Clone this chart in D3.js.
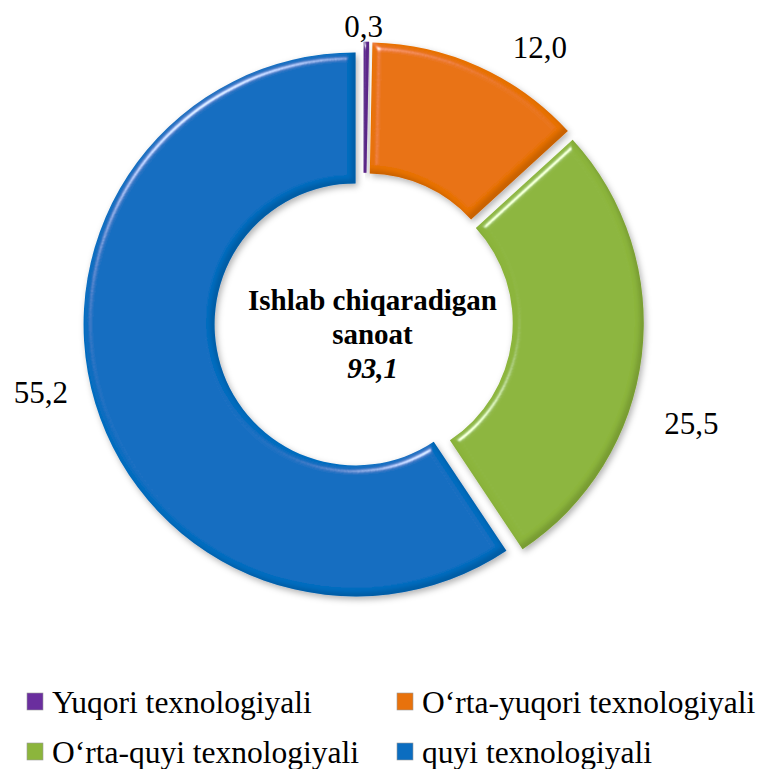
<!DOCTYPE html>
<html>
<head>
<meta charset="utf-8">
<script src="https://cdn.jsdelivr.net/npm/d3@7"></script>
<style>
  body { margin: 0; background: #fff; }
  text { font-family: "Liberation Serif", "Times New Roman", Times, serif; fill: #000; }
</style>
</head>
<body>
<div id="chart"></div>
<script>
// chart data
const categories = ["Yuqori texnologiyali", "O‘rta-yuqori texnologiyali", "O‘rta-quyi texnologiyali", "quyi texnologiyali"]
const values = [0.3, 12.0, 25.5, 55.2]
const colors = ["#6A2E9E", "#E8720C", "#8CB53C", "#0B6DC0"]
const centerLines = ["Ishlab chiqaradigan", "sanoat"]
const centerTotal = 93.1

// label nudges from the default outside position (layout only)
const labelNudge = [[-3, 22], [45, 15], [12, 63], [-18, -22]]

const width = 761
const height = 769
const cx = 363.5, cy = 322
const outerR = 272, innerR = 141
const explode = 8.3

const locale = d3.formatLocale({ decimal: ",", thousands: " ", grouping: [3], currency: ["", ""] })
const fmt = locale.format(".1f")

const svg = d3.select("#chart").append("svg")
    .attr("width", width)
    .attr("height", height)
    .attr("viewBox", [0, 0, width, height])

const defs = svg.append("defs")

// bevel + inner rim + soft shadow, roughly like the office "3D" shape style
const f = defs.append("filter").attr("id", "bevel")
    .attr("x", "-10%").attr("y", "-10%").attr("width", "120%").attr("height", "120%")
f.append("feGaussianBlur").attr("in", "SourceAlpha").attr("stdDeviation", 3.5).attr("result", "blur")
f.append("feSpecularLighting").attr("in", "blur").attr("surfaceScale", 8)
    .attr("specularConstant", 1).attr("specularExponent", 30)
    .attr("lighting-color", "#fff").attr("result", "spec")
    .append("feDistantLight").attr("azimuth", 235).attr("elevation", 28)
f.append("feComposite").attr("in", "spec").attr("in2", "SourceAlpha").attr("operator", "in").attr("result", "specIn")
f.append("feComposite").attr("in", "SourceGraphic").attr("in2", "specIn").attr("operator", "arithmetic")
    .attr("k1", 0).attr("k2", 1).attr("k3", 0.7).attr("k4", 0).attr("result", "lit")
// dark rim on the lower-right side
f.append("feOffset").attr("in", "SourceAlpha").attr("dx", -4).attr("dy", -4).attr("result", "aoff")
f.append("feGaussianBlur").attr("in", "aoff").attr("stdDeviation", 2).attr("result", "aoffb")
f.append("feComposite").attr("in", "SourceAlpha").attr("in2", "aoffb").attr("operator", "out").attr("result", "rimA")
f.append("feFlood").attr("flood-color", "#000").attr("flood-opacity", 0.28)
f.append("feComposite").attr("in2", "rimA").attr("operator", "in").attr("result", "rim")
// outer shadow
f.append("feGaussianBlur").attr("in", "SourceAlpha").attr("stdDeviation", 3).attr("result", "sblur")
f.append("feOffset").attr("in", "sblur").attr("dx", 2).attr("dy", 3).attr("result", "soff")
f.append("feFlood").attr("flood-color", "#000").attr("flood-opacity", 0.3)
f.append("feComposite").attr("in2", "soff").attr("operator", "in").attr("result", "shadow")
const merge = f.append("feMerge")
merge.append("feMergeNode").attr("in", "shadow")
merge.append("feMergeNode").attr("in", "lit")
merge.append("feMergeNode").attr("in", "rim")

const pie = d3.pie().sort(null).value(d => d)
const arcs = pie(values)

const arc = d3.arc().innerRadius(innerR).outerRadius(outerR)
const labelArc = d3.arc().innerRadius(310).outerRadius(310)

const g = svg.append("g").attr("transform", `translate(${cx},${cy})`)

function shift(d) {
    const a = (d.startAngle + d.endAngle) / 2
    return [Math.sin(a) * explode, -Math.cos(a) * explode]
}

g.selectAll("path.slice")
    .data(arcs)
    .join("path")
    .attr("class", "slice")
    .attr("d", arc)
    .attr("fill", (d, i) => colors[i])
    .attr("transform", d => `translate(${shift(d)})`)
    .attr("filter", "url(#bevel)")

g.selectAll("text.val")
    .data(arcs)
    .join("text")
    .attr("class", "val")
    .attr("text-anchor", "middle")
    .attr("dy", "0.35em")
    .attr("font-size", 31)
    .attr("transform", (d, i) => {
        const c = labelArc.centroid(d), s = shift(d)
        return `translate(${c[0] + s[0] + labelNudge[i][0]},${c[1] + s[1] + labelNudge[i][1]})`
    })
    .text(d => fmt(d.value))

// centre caption
const center = svg.append("text")
    .attr("text-anchor", "middle")
    .attr("font-size", 29)
    .attr("font-weight", "bold")
centerLines.forEach((t, i) => {
    center.append("tspan").attr("x", cx + 9).attr("y", 310 + i * 34).text(t)
})
center.append("tspan").attr("x", cx + 9).attr("y", 310 + centerLines.length * 34)
    .attr("font-style", "italic").text(fmt(centerTotal))

// legend
const legendX = [27, 397]
const legend = svg.append("g")
    .selectAll("g")
    .data(categories)
    .join("g")
    .attr("transform", (d, i) => `translate(${legendX[i % 2]},${713 + Math.floor(i / 2) * 50})`)

legend.append("rect")
    .attr("x", 0).attr("y", -20)
    .attr("width", 16).attr("height", 17)
    .attr("fill", (d, i) => colors[i])
    .attr("stroke", "#999").attr("stroke-width", 0.6)

legend.append("text")
    .attr("x", 25)
    .attr("font-size", 31.5)
    .text(d => d)
</script>
</body>
</html>
